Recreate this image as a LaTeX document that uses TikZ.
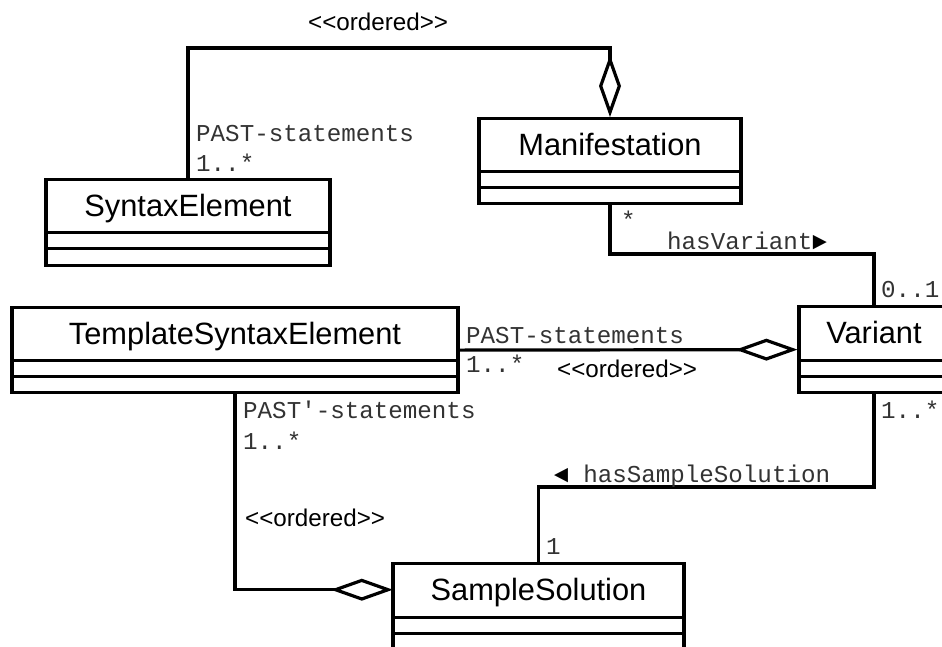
\documentclass[tikz,border=0pt]{standalone}
\usepackage{fontspec}
\setmainfont{Liberation Sans}
\newfontfamily\umlmono{Liberation Mono}
\usetikzlibrary{arrows.meta,calc}

\tikzset{
  umlline/.style={line width=3.2pt, line join=miter, draw=black},
  classbox/.style={umlline, rectangle, inner sep=0pt, minimum height=86pt},
  classtitle/.style={rectangle, inner sep=0pt, minimum height=54pt,
    font=\fontsize{30.8}{31}\selectfont, text height=22pt, text depth=0pt},
  assoc/.style={umlline},
  aggr/.style={umlline, -{Diamond[length=62pt, width=22pt, fill=white]}},
  role/.style={anchor=base west, inner sep=0pt, text=black!80,
    font=\umlmono\fontsize{24.2}{26}\selectfont},
  stereo/.style={anchor=base west, inner sep=0pt,
    font=\fontsize{24.2}{26}\selectfont}
}

% draws the two empty compartments below a class title
\newcommand{\umlcompartments}[2]{%
  \draw[umlline] (#1.south west) -- (#1.south east);
  \draw[umlline] ($(#1.south west)+(0,16)$) -- ($(#1.south east)+(0,16)$);
}
% stereotype text with plain angle brackets
\newcommand{\ordered}{<{}<ordered>{}>}

\begin{document}
\begin{tikzpicture}[x=1pt, y=-1pt]
  \useasboundingbox (0,0) rectangle (942,646);
  \clip (0,0) rectangle (942,646);
  \fill[white] (0,0) rectangle (942,646);

  % classes: outer box, title part, compartments
  \node[classbox, minimum width=284pt, anchor=north] (se) at (188,178) {};
  \node[classtitle, minimum width=284pt, anchor=north] (set) at (se.north) {SyntaxElement};
  \umlcompartments{set}{284}

  \node[classbox, minimum width=262pt, minimum height=85pt, anchor=north] (manif) at (610,117) {};
  \node[classtitle, minimum width=262pt, anchor=north] (manift) at (manif.north) {Manifestation};
  \umlcompartments{manift}{262}

  \node[classbox, minimum width=446pt, minimum height=85pt, anchor=north] (tse) at (235,306) {};
  \node[classtitle, minimum width=446pt, anchor=north] (tset) at (tse.north) {TemplateSyntaxElement};
  \umlcompartments{tset}{446}

  \node[classbox, minimum width=150pt, anchor=north] (var) at (874,305) {};
  \node[classtitle, minimum width=150pt, minimum height=55pt, anchor=north] (vart) at (var.north) {Variant};
  \umlcompartments{vart}{150}

  \node[classbox, minimum width=291pt, minimum height=87pt, anchor=north] (ss) at (538.5,562) {};
  \node[classtitle, minimum width=291pt, minimum height=55pt, anchor=north] (sst) at (ss.north) {SampleSolution};
  \umlcompartments{sst}{291}

  % bend levels of the routed associations
  \coordinate (bendA) at (0,48);
  \coordinate (bendB) at (0,254);
  \coordinate (bendC) at (0,487);

  % associations
  \draw[aggr] (se.north) -- (se.north |- bendA) -| (manif.north);
  \draw[assoc] (manif.south) -- (manif.south |- bendB) -| (var.north);
  \draw[aggr] (tse.east) -- (var.west);
  \draw[assoc] (var.south) -- (var.south |- bendC) -| (ss.north);
  \draw[aggr] (tse.south) |- (sst.west);

  % labels: SyntaxElement -- Manifestation
  \node[stereo] (lblA) at (308,30) {\ordered};
  \node[role] (roleA) at (196,141) {PAST-statements};
  \node[role] (multA) at (196,171) {1..*};

  % labels: Manifestation -- Variant
  \node[role] (multB1) at (621,228) {*};
  \node[role] (roleB) at (667,249) {hasVariant\textcolor{black}{►}};
  \node[role] (multB2) at (881,297) {0..1};

  % labels: TemplateSyntaxElement -- Variant
  \node[role] (roleC) at (466,343) {PAST-statements};
  \node[role] (multC) at (466,372) {1..*};
  \node[stereo] (lblC) at (557,377) {\ordered};

  % labels: TemplateSyntaxElement -- SampleSolution
  \node[role] (roleD) at (243,418) {PAST'-statements};
  \node[role] (multD) at (243,449) {1..*};
  \node[stereo] (lblD) at (245,526) {\ordered};

  % labels: Variant -- SampleSolution
  \node[role] (multE1) at (881,418) {1..*};
  \node[role] (roleE) at (554,482) {\textcolor{black}{◄} hasSampleSolution};
  \node[role] (multE2) at (546,554) {1};
\end{tikzpicture}
\end{document}
